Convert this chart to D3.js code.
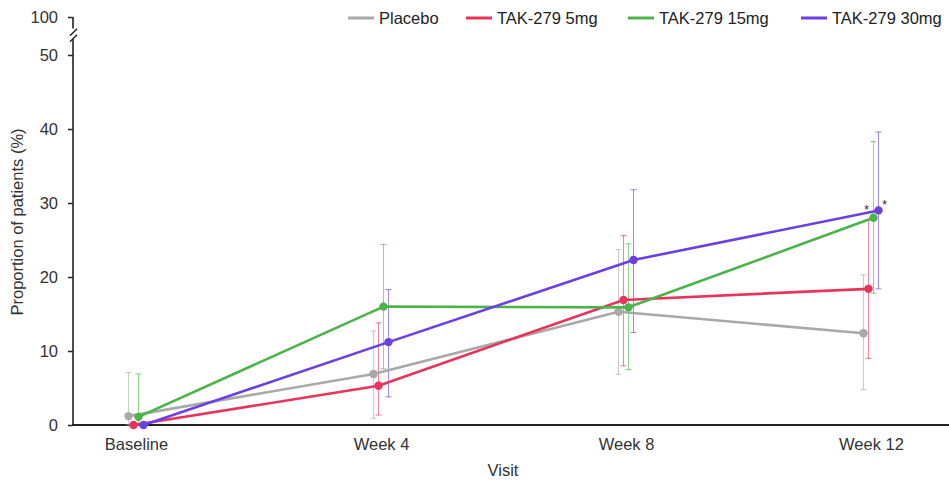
<!DOCTYPE html>
<html>
<head>
<meta charset="utf-8">
<script src="https://cdn.jsdelivr.net/npm/d3@7/dist/d3.min.js"></script>
<style>
  html, body { margin: 0; padding: 0; background: #fff; }
  svg { display: block; font-family: "Liberation Sans", Arial, sans-serif; }
</style>
</head>
<body>
<svg id="chart" width="949" height="483"></svg>
<script>
// ---- data ----
const visits = ["Baseline", "Week 4", "Week 8", "Week 12"];
const seriesNames = ["Placebo", "TAK-279 5mg", "TAK-279 15mg", "TAK-279 30mg"];
const seriesColors = ["#a9a9a9", "#e8345c", "#4cb34a", "#6c3fe2"];

const placeboMean = [1.2, 6.9, 15.3, 12.4];
const placeboLow  = [0, 0.9, 6.85, 4.8];
const placeboHigh = [7.1, 12.7, 23.7, 20.3];

const tak5Mean = [0, 5.3, 16.9, 18.4];
const tak5Low  = [null, 1.35, 8.0, 9.0];
const tak5High = [null, 13.8, 25.6, 27.7];

const tak15Mean = [1.1, 16.0, 15.9, 28.0];
const tak15Low  = [0, 7.6, 7.5, 17.8];
const tak15High = [6.9, 24.4, 24.5, 38.3];

const tak30Mean = [0, 11.2, 22.3, 29.0];
const tak30Low  = [null, 3.8, 12.5, 18.4];
const tak30High = [null, 18.3, 31.8, 39.6];

const yTickValues = [0, 10, 20, 30, 40, 50, 100];
const significance = [
  { series: "TAK-279 15mg", visit: "Week 12", label: "*" },
  { series: "TAK-279 30mg", visit: "Week 12", label: "*" }
];

const series = [
  { name: seriesNames[0], color: seriesColors[0], mean: placeboMean, low: placeboLow, high: placeboHigh },
  { name: seriesNames[1], color: seriesColors[1], mean: tak5Mean, low: tak5Low, high: tak5High },
  { name: seriesNames[2], color: seriesColors[2], mean: tak15Mean, low: tak15Low, high: tak15High },
  { name: seriesNames[3], color: seriesColors[3], mean: tak30Mean, low: tak30Low, high: tak30High }
];

// ---- layout ----
const svg = d3.select("#chart");
const FONT = 16.5;
const axisX = 73, axisBottom = 425, rightEdge = 949;

const x = d3.scalePoint().domain(visits).range([136, 871]);
const offset = d3.scaleBand().domain(seriesNames).range([-10, 10]);
const px = (s, v) => x(v) + offset(s) + offset.bandwidth() / 2;
// broken axis: 0-50 linear, then compressed up to 100
const y = d3.scaleLinear().domain([0, 50, 100]).range([axisBottom, 55, 17]);

// y axis
const yAxis = d3.axisLeft(y).tickValues(yTickValues).tickSize(5).tickPadding(10).tickFormat(d3.format("d"));
const gy = svg.append("g").attr("transform", `translate(${axisX},0)`).call(yAxis);
gy.select(".domain").remove();
gy.selectAll(".tick line").attr("stroke", "#222").attr("stroke-width", 1.5);
gy.selectAll(".tick text").attr("fill", "#333").style("font-size", FONT + "px");

// y axis line with break
svg.append("line").attr("x1", axisX).attr("x2", axisX).attr("y1", y(0)).attr("y2", y(71))
  .attr("stroke", "#222").attr("stroke-width", 1.6);
svg.append("line").attr("x1", axisX).attr("x2", axisX).attr("y1", y(85)).attr("y2", y(100))
  .attr("stroke", "#222").attr("stroke-width", 1.6);
[y(80), y(72)].forEach(yy => {
  svg.append("line").attr("x1", axisX - 3).attr("x2", axisX + 4)
    .attr("y1", yy + 3.5).attr("y2", yy - 3.5)
    .attr("stroke", "#222").attr("stroke-width", 1.4);
});

// x axis
const xAxis = d3.axisBottom(x).tickSize(0).tickPadding(13);
const gx = svg.append("g").attr("transform", `translate(0,${axisBottom})`).call(xAxis);
gx.select(".domain").remove();
gx.selectAll(".tick text").attr("fill", "#333").style("font-size", FONT + "px");
svg.append("line").attr("x1", axisX - 1).attr("x2", rightEdge).attr("y1", axisBottom).attr("y2", axisBottom)
  .attr("stroke", "#222").attr("stroke-width", 2);

// axis titles
svg.append("text").attr("x", 503).attr("y", 476).attr("text-anchor", "middle")
  .attr("fill", "#333").style("font-size", FONT + "px").text("Visit");
svg.append("text").attr("transform", "translate(23,222) rotate(-90)").attr("text-anchor", "middle")
  .attr("fill", "#333").style("font-size", FONT + "px").text("Proportion of patients (%)");

// error bars
const capW = 3;
series.forEach(s => {
  const g = svg.append("g").attr("stroke", s.color).attr("stroke-opacity", 0.6).attr("stroke-width", 1.1);
  visits.forEach((v, i) => {
    if (s.low[i] == null || s.high[i] == null) return;
    const cx = px(s.name, v);
    g.append("line").attr("x1", cx).attr("x2", cx).attr("y1", y(s.low[i])).attr("y2", y(s.high[i]));
    g.append("line").attr("x1", cx - capW).attr("x2", cx + capW).attr("y1", y(s.high[i])).attr("y2", y(s.high[i]));
    g.append("line").attr("x1", cx - capW).attr("x2", cx + capW).attr("y1", y(s.low[i])).attr("y2", y(s.low[i]));
  });
});

// lines and markers
const line = d3.line().x(d => d.x).y(d => d.y);
series.forEach(s => {
  const pts = visits.map((v, i) => ({ x: px(s.name, v), y: y(s.mean[i]) }));
  svg.append("path").attr("d", line(pts)).attr("fill", "none")
    .attr("stroke", s.color).attr("stroke-width", 2.6).attr("stroke-linejoin", "round");
  svg.append("g").selectAll("circle").data(pts).join("circle")
    .attr("cx", d => d.x).attr("cy", d => d.y).attr("r", 4.2).attr("fill", s.color);
});

// significance markers
significance.forEach((a, k) => {
  const s = series.find(d => d.name === a.series);
  const i = visits.indexOf(a.visit);
  const cx = px(a.series, a.visit), cy = y(s.mean[i]);
  const dx = k === 0 ? -7 : 6, dy = k === 0 ? -4 : -1;
  svg.append("text").attr("x", cx + dx).attr("y", cy + dy).attr("text-anchor", "middle")
    .attr("fill", "#333").style("font-size", "13px").text(a.label);
});

// legend
const legendX = [348, 466, 628, 801];
const legendY = 18;
series.forEach((s, i) => {
  const g = svg.append("g").attr("transform", `translate(${legendX[i]},${legendY})`);
  g.append("line").attr("x1", 0).attr("x2", 26).attr("y1", 0).attr("y2", 0)
    .attr("stroke", s.color).attr("stroke-width", 3);
  g.append("text").attr("x", 31).attr("y", 0).attr("dy", "0.35em")
    .attr("fill", "#222").style("font-size", FONT + "px").text(s.name);
});
</script>
</body>
</html>
